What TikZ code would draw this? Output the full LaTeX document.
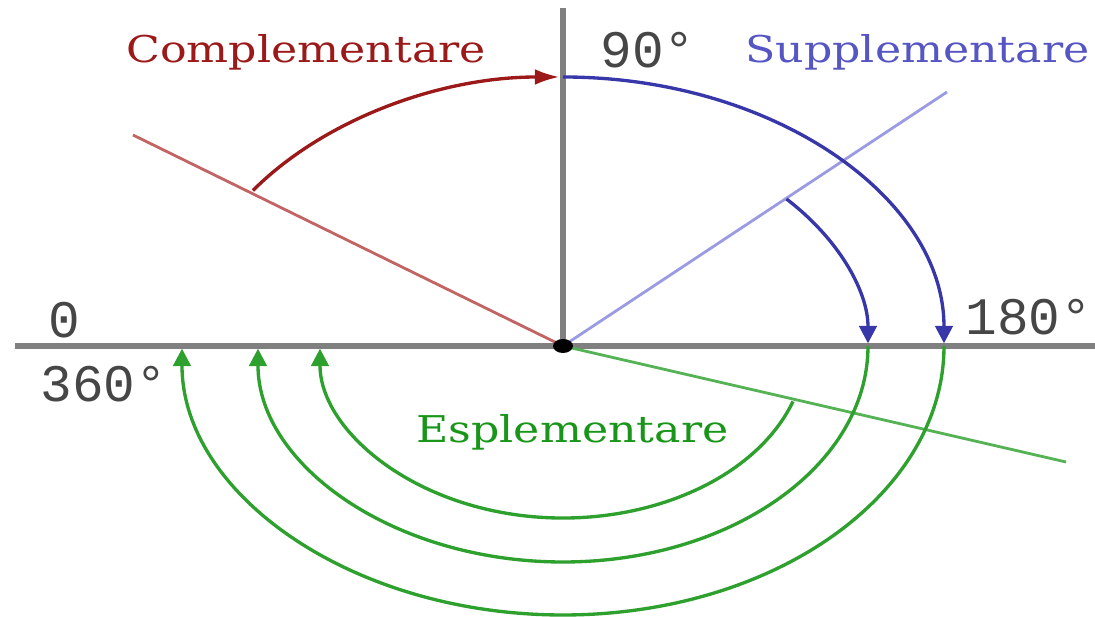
\documentclass[tikz,border=0pt]{standalone}
\usepackage{fontspec}
\setmainfont{DejaVu Serif}
\newfontfamily\digitfont{Liberation Mono}
\usepackage{graphicx}
\usetikzlibrary{arrows.meta}

\definecolor{complred}{RGB}{155,25,25}
\definecolor{complray}{RGB}{195,100,100}
\definecolor{supptext}{RGB}{85,85,195}
\definecolor{supparc}{RGB}{55,55,170}
\definecolor{suppray}{RGB}{155,155,228}
\definecolor{espltext}{RGB}{25,150,25}
\definecolor{esplarc}{RGB}{45,160,45}
\definecolor{esplray}{RGB}{85,178,85}
\definecolor{axisgray}{RGB}{128,128,128}
\definecolor{numgray}{RGB}{70,70,70}

\newcommand{\stretched}[1]{\scalebox{1.2}[1]{#1}}

\begin{document}
\begin{tikzpicture}[x=0.02cm,y=0.02cm,line width=1.6pt,
  arcarrow/.style={-{Triangle[length=10pt,width=10pt]},line width=1.9pt,shorten >=1.5pt},
  word/.style={font=\fontsize{21}{24}\selectfont,inner sep=0pt,anchor=base west},
  deglabel/.style={font=\digitfont\fontsize{30}{32}\selectfont,text=numgray,inner sep=0pt,anchor=base west}]
\useasboundingbox (-563,-271) rectangle (532,346);
\coordinate (O) at (0,0);
% ================= axes =================
\draw[axisgray,line width=3pt] (-548,0) -- (532,0);
\draw[axisgray,line width=3.6pt] (O) -- (0,338);
% ================= rays =================
\coordinate (rayC) at (-430,211);
\coordinate (rayS) at (384,254);
\coordinate (rayE) at (503,-116);
\draw[complray] (O) -- (rayC);
\draw[suppray] (O) -- (rayS);
\draw[esplray] (O) -- (rayE);
% complementare: from the red ray up to 90
\draw[complred,line width=1.9pt,-{Latex[length=14pt,width=9pt]},shorten >=2pt]
  (O) ++(144.7:380 and 269) arc[start angle=144.7,end angle=90,x radius=380,y radius=269];
% supplementare: down to 180
\draw[supparc,arcarrow]
  (O) ++(90:381 and 269) arc[start angle=90,end angle=0,x radius=381,y radius=269];
\draw[supparc,arcarrow]
  (O) ++(42.9:305 and 216) arc[start angle=42.9,end angle=0,x radius=305,y radius=216];
% esplementare: round the bottom to 360
\draw[esplarc,arcarrow]
  (O) ++(-18.8:243 and 172) arc[start angle=-18.8,end angle=-180,x radius=243,y radius=172];
\draw[esplarc,arcarrow]
  (O) ++(0:305 and 216) arc[start angle=0,end angle=-180,x radius=305,y radius=216];
\draw[esplarc,arcarrow]
  (O) ++(0:381 and 269) arc[start angle=0,end angle=-180,x radius=381,y radius=269];
% origin
\fill (O) ellipse (10 and 7);
% ================= labels =================
\node[word,text=complred] (complabel) at (-438,283) {\stretched{Complementare}};
\node[word,text=supptext] (supplabel) at (181,283) {\stretched{Supplementare}};
\node[word,text=espltext] (esplabel) at (-148,-97) {\stretched{Esplementare}};
\node[deglabel] (lab90) at (36,278) {90°};
\node[deglabel] (lab180) at (401,11) {180°};
\node[deglabel] (lab0) at (-516,8) {0};
\node[deglabel] (lab360) at (-524,-56) {360°};
\end{tikzpicture}
\end{document}
